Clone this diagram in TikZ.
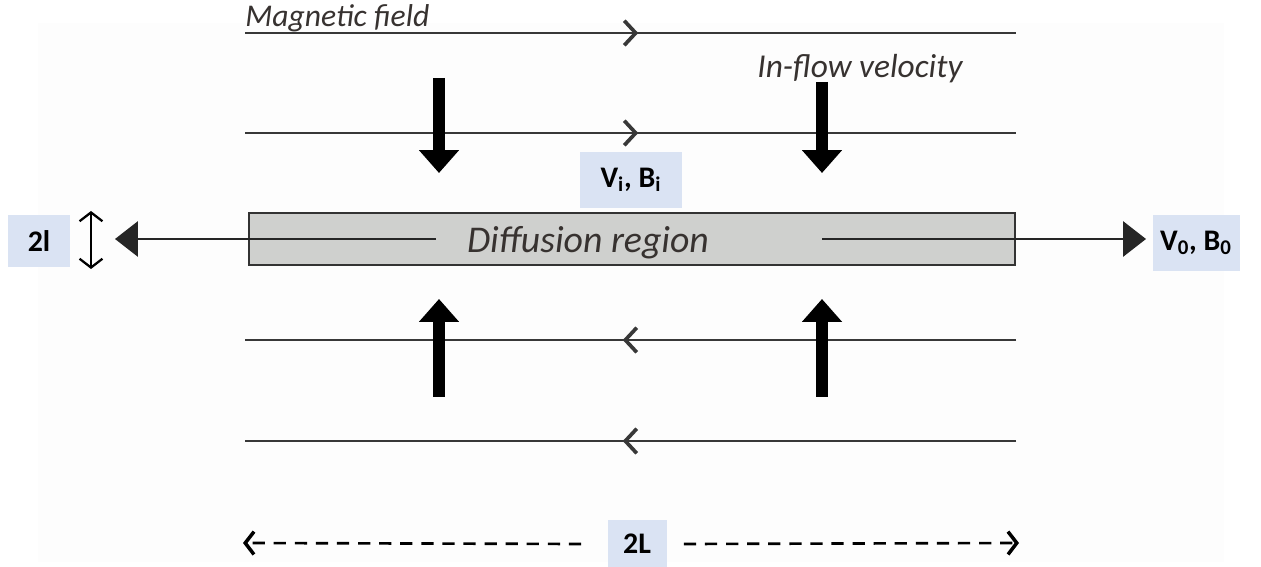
\documentclass[tikz,border=0pt]{standalone}
\usepackage{fontspec}
\setmainfont{Carlito}
\usepackage{tikz}
\usetikzlibrary{arrows.meta}
\usetikzlibrary{decorations.markings}
\usetikzlibrary{positioning}

\definecolor{tagblue}{RGB}{218,227,243}
\definecolor{regiongray}{RGB}{207,208,206}
\definecolor{textgray}{RGB}{55,50,48}

\tikzset{
  fieldline/.style={draw=black!78, line width=1.3pt, postaction={decorate},
    decoration={markings, mark=at position 0.51 with
      {\arrow{Straight Barb[length=6.5pt,width=14pt,line width=2.1pt]}}}},
  inflow/.style={line width=7pt, -{Triangle[length=13pt,width=22pt]}},
  outflow/.style={draw=black!85, line width=1.1pt, -{Triangle[length=13pt,width=20pt]}},
  tag/.style={fill=tagblue, inner sep=0pt, font=\bfseries\fontsize{17}{20}\selectfont},
  slanted/.style={text=textgray, inner sep=0pt, font=\itshape\fontsize{18}{21}\selectfont}
}

\begin{document}
\begin{tikzpicture}[x=0.02cm, y=-0.02cm]
    \useasboundingbox (0,0) rectangle (1261,567);
    \fill[black!0.6] (38,23) rectangle (1224,562);

    % field lines
    \coordinate (fa) at (245,33);  \coordinate (fb) at (1016,33);
    \coordinate (ga) at (245,133); \coordinate (gb) at (1016,133);
    \coordinate (ha) at (245,340); \coordinate (hb) at (1016,340);
    \coordinate (ka) at (245,441); \coordinate (kb) at (1016,441);
    \draw[fieldline] (fa) -- (fb);
    \draw[fieldline] (ga) -- (gb);
    \draw[fieldline] (hb) -- (ha);
    \draw[fieldline] (kb) -- (ka);

    \node[slanted, anchor=base west] (magfield) at (245,27) {Magnetic field};
    \node[slanted, anchor=base west, font=\itshape\fontsize{19}{22}\selectfont]
      (inflowtxt) at (757,78) {In-flow velocity};

    \node[draw=black!80, fill=regiongray, line width=1.3pt, minimum width=15.32cm,
          minimum height=1.04cm] (diff) at (632,239) {};
    \node[slanted, anchor=base, font=\itshape\fontsize{21.5}{24}\selectfont]
      (difftxt) at (588,253) {Diffusion region};

    % outflow
    \coordinate (inL) at (436,239);  \coordinate (outL) at (115,239);
    \coordinate (inR) at (822,239);  \coordinate (outR) at (1146,239);
    \draw[outflow] (inL) -- (outL);
    \draw[outflow] (inR) -- (outR);

    % inflow
    \coordinate (d1a) at (439,78);  \coordinate (d1b) at (439,173);
    \coordinate (d2a) at (822,82);  \coordinate (d2b) at (822,173);
    \coordinate (u1a) at (439,397); \coordinate (u1b) at (439,299);
    \coordinate (u2a) at (822,397); \coordinate (u2b) at (822,299);
    \draw[inflow] (d1a) -- (d1b);
    \draw[inflow] (d2a) -- (d2b);
    \draw[inflow] (u1a) -- (u1b);
    \draw[inflow] (u2a) -- (u2b);

    \node[tag, minimum width=2.04cm, minimum height=1.12cm] (vi) at (631,180)
      {V\textsubscript{i}, B\textsubscript{i}};
    \node[tag, minimum width=1.74cm, minimum height=1.14cm] (vo) at (1196,243)
      {V\textsubscript{0}, B\textsubscript{0}};
    \node[tag, minimum width=1.24cm, minimum height=1.04cm] (thick) at (39,241) {2l};
    \node[tag, minimum width=1.18cm, minimum height=0.96cm] (len) at (637,544) {2L};

    \coordinate (wa) at (91,211); \coordinate (wb) at (91,269);
    \draw[line width=1.3pt, {Straight Barb[length=5pt,width=13pt]}-{Straight Barb[length=5pt,width=13pt]}] (wa) -- (wb);

    \coordinate (la) at (243,543); \coordinate (lb) at (1019,543);
    \draw[line width=1.5pt, dash pattern=on 7pt off 5pt, -{Straight Barb[length=5pt,width=13pt,line width=2pt]}]
      (len.west) ++(-26,0) -- (la);
    \draw[line width=1.5pt, dash pattern=on 7pt off 5pt, -{Straight Barb[length=5pt,width=13pt,line width=2pt]}]
      (len.east) ++(17,0) -- (lb);
\end{tikzpicture}
\end{document}
